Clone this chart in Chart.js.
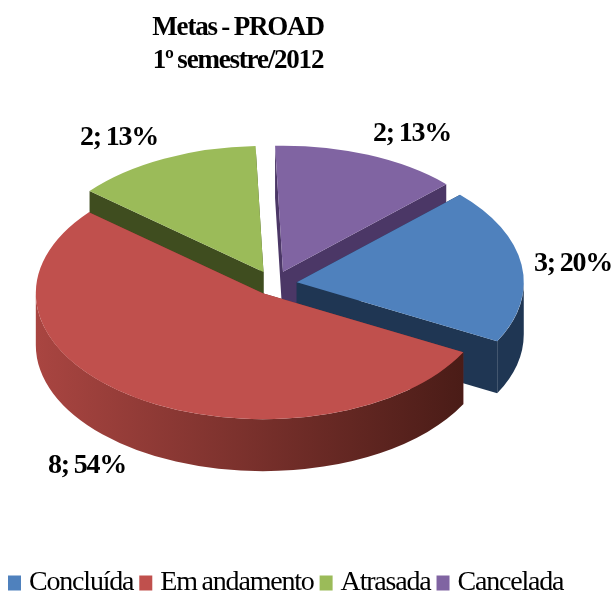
<!DOCTYPE html>
<html><head><meta charset="utf-8">
<style>html,body{margin:0;padding:0;background:#fff}#w{width:615px;height:594px}</style>
<script src="https://cdn.jsdelivr.net/npm/chart.js@4"></script></head>
<body><div id="w"><canvas id="c"></canvas></div>
<script>
const categories = ['Concluída','Em andamento','Atrasada','Cancelada'];
const values = [3,8,2,2];
const sliceLabels = ['3; 20%','8; 54%','2; 13%','2; 13%'];
const titleLines = ['Metas - PROAD','1º semestre/2012'];
const colors = ['#4f81bd','#c0504d','#9bbb59','#8064a2'];
const sideColors = ['#1f3653','#7a2f2c','#3f4d1f','#4b3766'];
const wallFrom = ['#1f3653','#a94541','#3f4d1f','#4b3766'];
const wallTo = ['#1f3653','#4a1c17','#3f4d1f','#4b3766'];
// layout of the tilted pie
const CX=274, CY=284, SQ=0.555, DEPTH=52, RADIUS=227;
const explode=[23,20,24,24];
const labelPos=[[573,264],[87,466],[119,138],[412,134]];
const TRACK='-1.2px', WORDGAP='-1px';

function shift(el,i){
  const mid=(el.startAngle+el.endAngle)/2;
  return [CX+Math.cos(mid)*explode[i], CY+Math.sin(mid)*explode[i]*SQ];
}
const pie3d={
  id:'pie3d',
  beforeLayout(chart){chart.ctx.letterSpacing=TRACK;chart.ctx.wordSpacing=WORDGAP;},
  beforeDraw(chart){chart.ctx.letterSpacing=TRACK;chart.ctx.wordSpacing=WORDGAP;},
  afterLayout(chart){
    const t=chart.titleBlock; t.right=2*238-t.left;
    chart.legend.top+=13;
  },
  beforeDatasetsDraw(chart){
    const ctx=chart.ctx, arcs=chart.getDatasetMeta(0).data;
    const P=(c,a,r,dy)=>[c[0]+r*Math.cos(a),c[1]+r*Math.sin(a)*SQ+dy];
    [3,2,0,1].forEach(i=>{
      const el=arcs[i], c=shift(el,i), r=el.outerRadius, a0=el.startAngle, a1=el.endAngle;
      ctx.save();
      ctx.fillStyle=sideColors[i];
      [a0,a1].forEach(a=>{
        const e=P(c,a,r,0), e2=P(c,a,r,DEPTH);
        ctx.beginPath();ctx.moveTo(c[0],c[1]);ctx.lineTo(e[0],e[1]);ctx.lineTo(e2[0],e2[1]);ctx.lineTo(c[0],c[1]+DEPTH);ctx.closePath();ctx.fill();
      });
      const tp=2*Math.PI;
      let s=a0, t=a1;
      while(t>tp){s-=tp;t-=tp;}
      const from=Math.max(s,0), to=Math.min(t,Math.PI);
      if(to>from){
        const g=ctx.createLinearGradient(c[0]-r,0,P(c,from,r,0)[0],0);
        g.addColorStop(0,wallFrom[i]);g.addColorStop(1,wallTo[i]);
        ctx.fillStyle=g;
        ctx.beginPath();
        ctx.ellipse(c[0],c[1],r,r*SQ,0,from,to);
        ctx.ellipse(c[0],c[1]+DEPTH,r,r*SQ,0,to,from,true);
        ctx.closePath();ctx.fill();
      }
      ctx.restore();
    });
    arcs.forEach((el,i)=>{
      const c=shift(el,i);
      ctx.save();
      ctx.translate(c[0],c[1]);ctx.scale(1,SQ);ctx.translate(-el.x,-el.y);
      el.draw(ctx);
      ctx.restore();
    });
    ctx.save();
    ctx.fillStyle='#000';ctx.font='bold 28px "Liberation Serif"';
    ctx.textAlign='center';ctx.textBaseline='middle';
    sliceLabels.forEach((s,i)=>ctx.fillText(s,labelPos[i][0],labelPos[i][1]));
    ctx.restore();
    return false;
  },
  beforeDatasetDraw(){return false;}
};
new Chart(document.getElementById('c'),{
  type:'pie',
  data:{labels:categories,datasets:[{data:values,backgroundColor:colors,borderWidth:0}]},
  options:{
    responsive:true,maintainAspectRatio:false,animation:false,
    rotation:46,radius:RADIUS,
    layout:{padding:{left:2,bottom:0,top:12}},
    plugins:{
      tooltip:{enabled:false},
      title:{display:true,text:titleLines,color:'#000',align:'center',
        font:{family:'"Liberation Serif"',size:27,weight:'bold',lineHeight:1.22},padding:0},
      legend:{position:'bottom',align:'start',
        labels:{color:'#000',font:{family:'"Liberation Serif"',size:28},boxWidth:1,boxHeight:3,padding:12,
          generateLabels:()=>categories.map((t,i)=>({text:t,fillStyle:colors[i],strokeStyle:colors[i],lineWidth:12,hidden:false,index:i}))}}
    }
  },
  plugins:[pie3d]
});
</script></body></html>
